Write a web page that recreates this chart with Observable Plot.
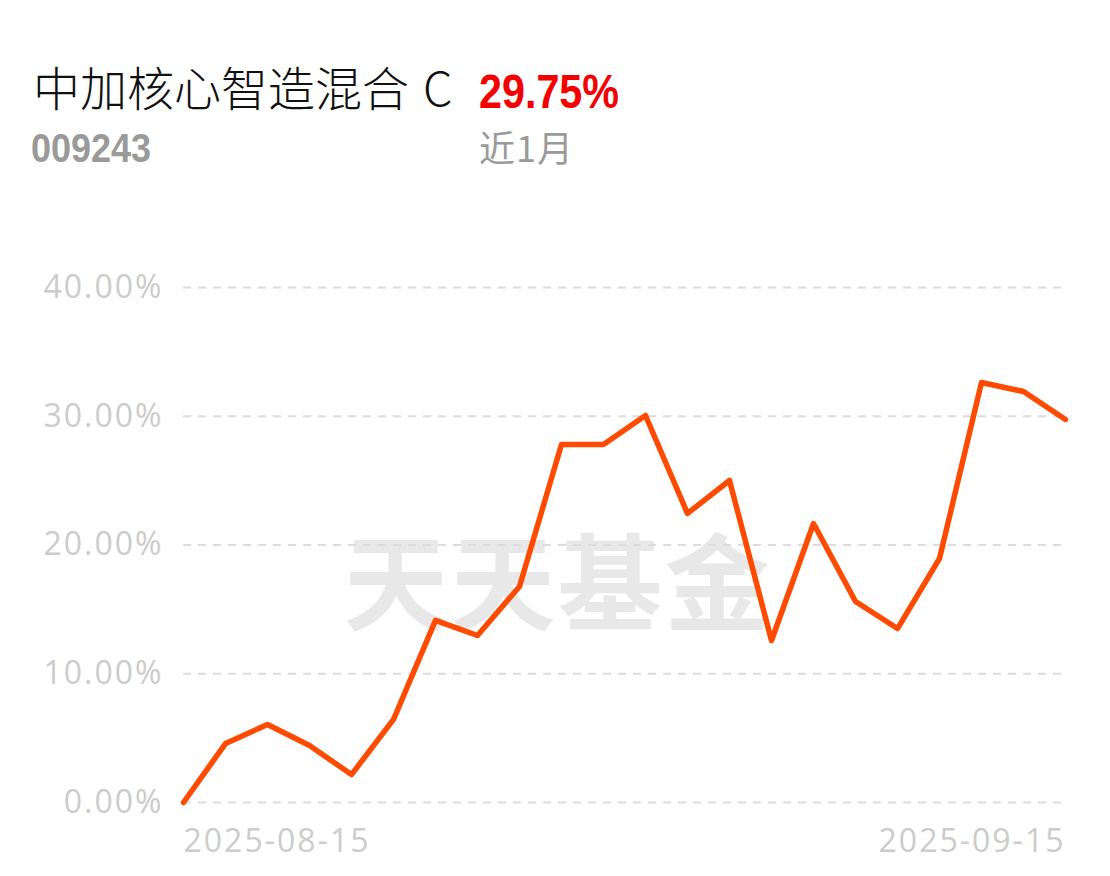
<!DOCTYPE html>
<html>
<head>
<meta charset="utf-8">
<script src="https://cdn.jsdelivr.net/npm/d3@7"></script>
<script src="https://cdn.jsdelivr.net/npm/@observablehq/plot@0.6"></script>
<style>
  html, body { margin: 0; padding: 0; background: #fff; }
  #wrap { position: relative; width: 1110px; height: 876px; overflow: hidden; }
  .t { position: absolute; white-space: nowrap; line-height: 1; transform-origin: left top; }
  #title { left: 33px; top: 51px; font: 300 47px "Noto Sans CJK SC", sans-serif; color: #111; }
  #title .c { margin-left: 14px; }
  #ret { left: 479px; top: 64px; font: bold 48px "Liberation Sans", sans-serif; color: #f40000; transform: scaleX(0.86); }
  #code { left: 31px; top: 126px; font: bold 40px "Liberation Sans", sans-serif; color: #9a9a9a; transform: scaleX(0.9); }
  #period { left: 479px; top: 120px; font: 36px "Noto Sans CJK SC", sans-serif; color: #9a9a9a; letter-spacing: 1px; }
  #chart { position: absolute; left: 0; top: 200px; }
  #chart svg text { letter-spacing: 2px; }
</style>
</head>
<body>
<div id="wrap">
  <div class="t" id="title"></div>
  <div class="t" id="ret"></div>
  <div class="t" id="code"></div>
  <div class="t" id="period"></div>
  <div id="chart"></div>
</div>
<script>
const fundName = "中加核心智造混合C";
const fundCode = "009243";
const periodReturn = "29.75%";
const periodLabel = "近1月";
const watermark = "天天基金";

const dates = [
  "2025-08-15","2025-08-18","2025-08-19","2025-08-20","2025-08-21","2025-08-22",
  "2025-08-25","2025-08-26","2025-08-27","2025-08-28","2025-08-29",
  "2025-09-01","2025-09-02","2025-09-03","2025-09-04","2025-09-05",
  "2025-09-08","2025-09-09","2025-09-10","2025-09-11","2025-09-12","2025-09-15"
];
const returns = [
  0.00, 4.58, 6.06, 4.43, 2.17, 6.45,
  14.14, 12.97, 16.78, 27.81, 27.81,
  30.06, 22.45, 25.01, 12.58, 21.67,
  15.61, 13.51, 18.95, 32.62, 31.92, 29.75
];
const yTicks = [0, 10, 20, 30, 40];
const xTicksShown = [dates[0], dates[dates.length - 1]];

const titleEl = document.getElementById("title");
titleEl.textContent = fundName.slice(0, -1);
const cSpan = document.createElement("span");
cSpan.className = "c";
cSpan.textContent = fundName.slice(-1);
titleEl.appendChild(cSpan);
document.getElementById("ret").textContent = periodReturn;
document.getElementById("code").textContent = fundCode;
document.getElementById("period").textContent = periodLabel;

const data = dates.map((d, i) => ({date: d, value: returns[i]}));

const axisFont = {fontSize: 32, fill: "#cccccc", fontFamily: "'Open Sans', sans-serif"};

const chart = Plot.plot({
  width: 1110,
  height: 676,
  marginTop: 87,
  marginBottom: 74,
  marginLeft: 183,
  marginRight: 45,
  style: {background: "transparent", overflow: "visible"},
  x: {type: "point", domain: dates, padding: 0},
  y: {domain: [0, 40]},
  marks: [
    Plot.text([watermark], {
      frameAnchor: "top-left", dx: 160, dy: 388 - 87, text: d => d,
      fontSize: 105, fontWeight: 700, fill: "#e8e8e8", textAnchor: "start",
      fontFamily: "Noto Sans CJK SC", lineAnchor: "middle"
    }),
    Plot.gridY(yTicks, {stroke: "#dcdcdc", strokeOpacity: 1, strokeWidth: 2, strokeDasharray: "8,7"}),
    Plot.axisY(yTicks, {
      tickSize: 0, tickPadding: 20, tickFormat: d => d.toFixed(2) + "%", label: null, ...axisFont
    }),
    Plot.axisX([xTicksShown[0]], {
      tickSize: 0, tickPadding: 27, textAnchor: "start", label: null, ...axisFont
    }),
    Plot.axisX([xTicksShown[1]], {
      tickSize: 0, tickPadding: 27, textAnchor: "end", label: null, ...axisFont
    }),
    Plot.line(data, {x: "date", y: "value", stroke: "#ff4a00", strokeWidth: 5.5, strokeLinejoin: "round", strokeLinecap: "round"})
  ]
});
document.getElementById("chart").appendChild(chart);
</script>
</body>
</html>
